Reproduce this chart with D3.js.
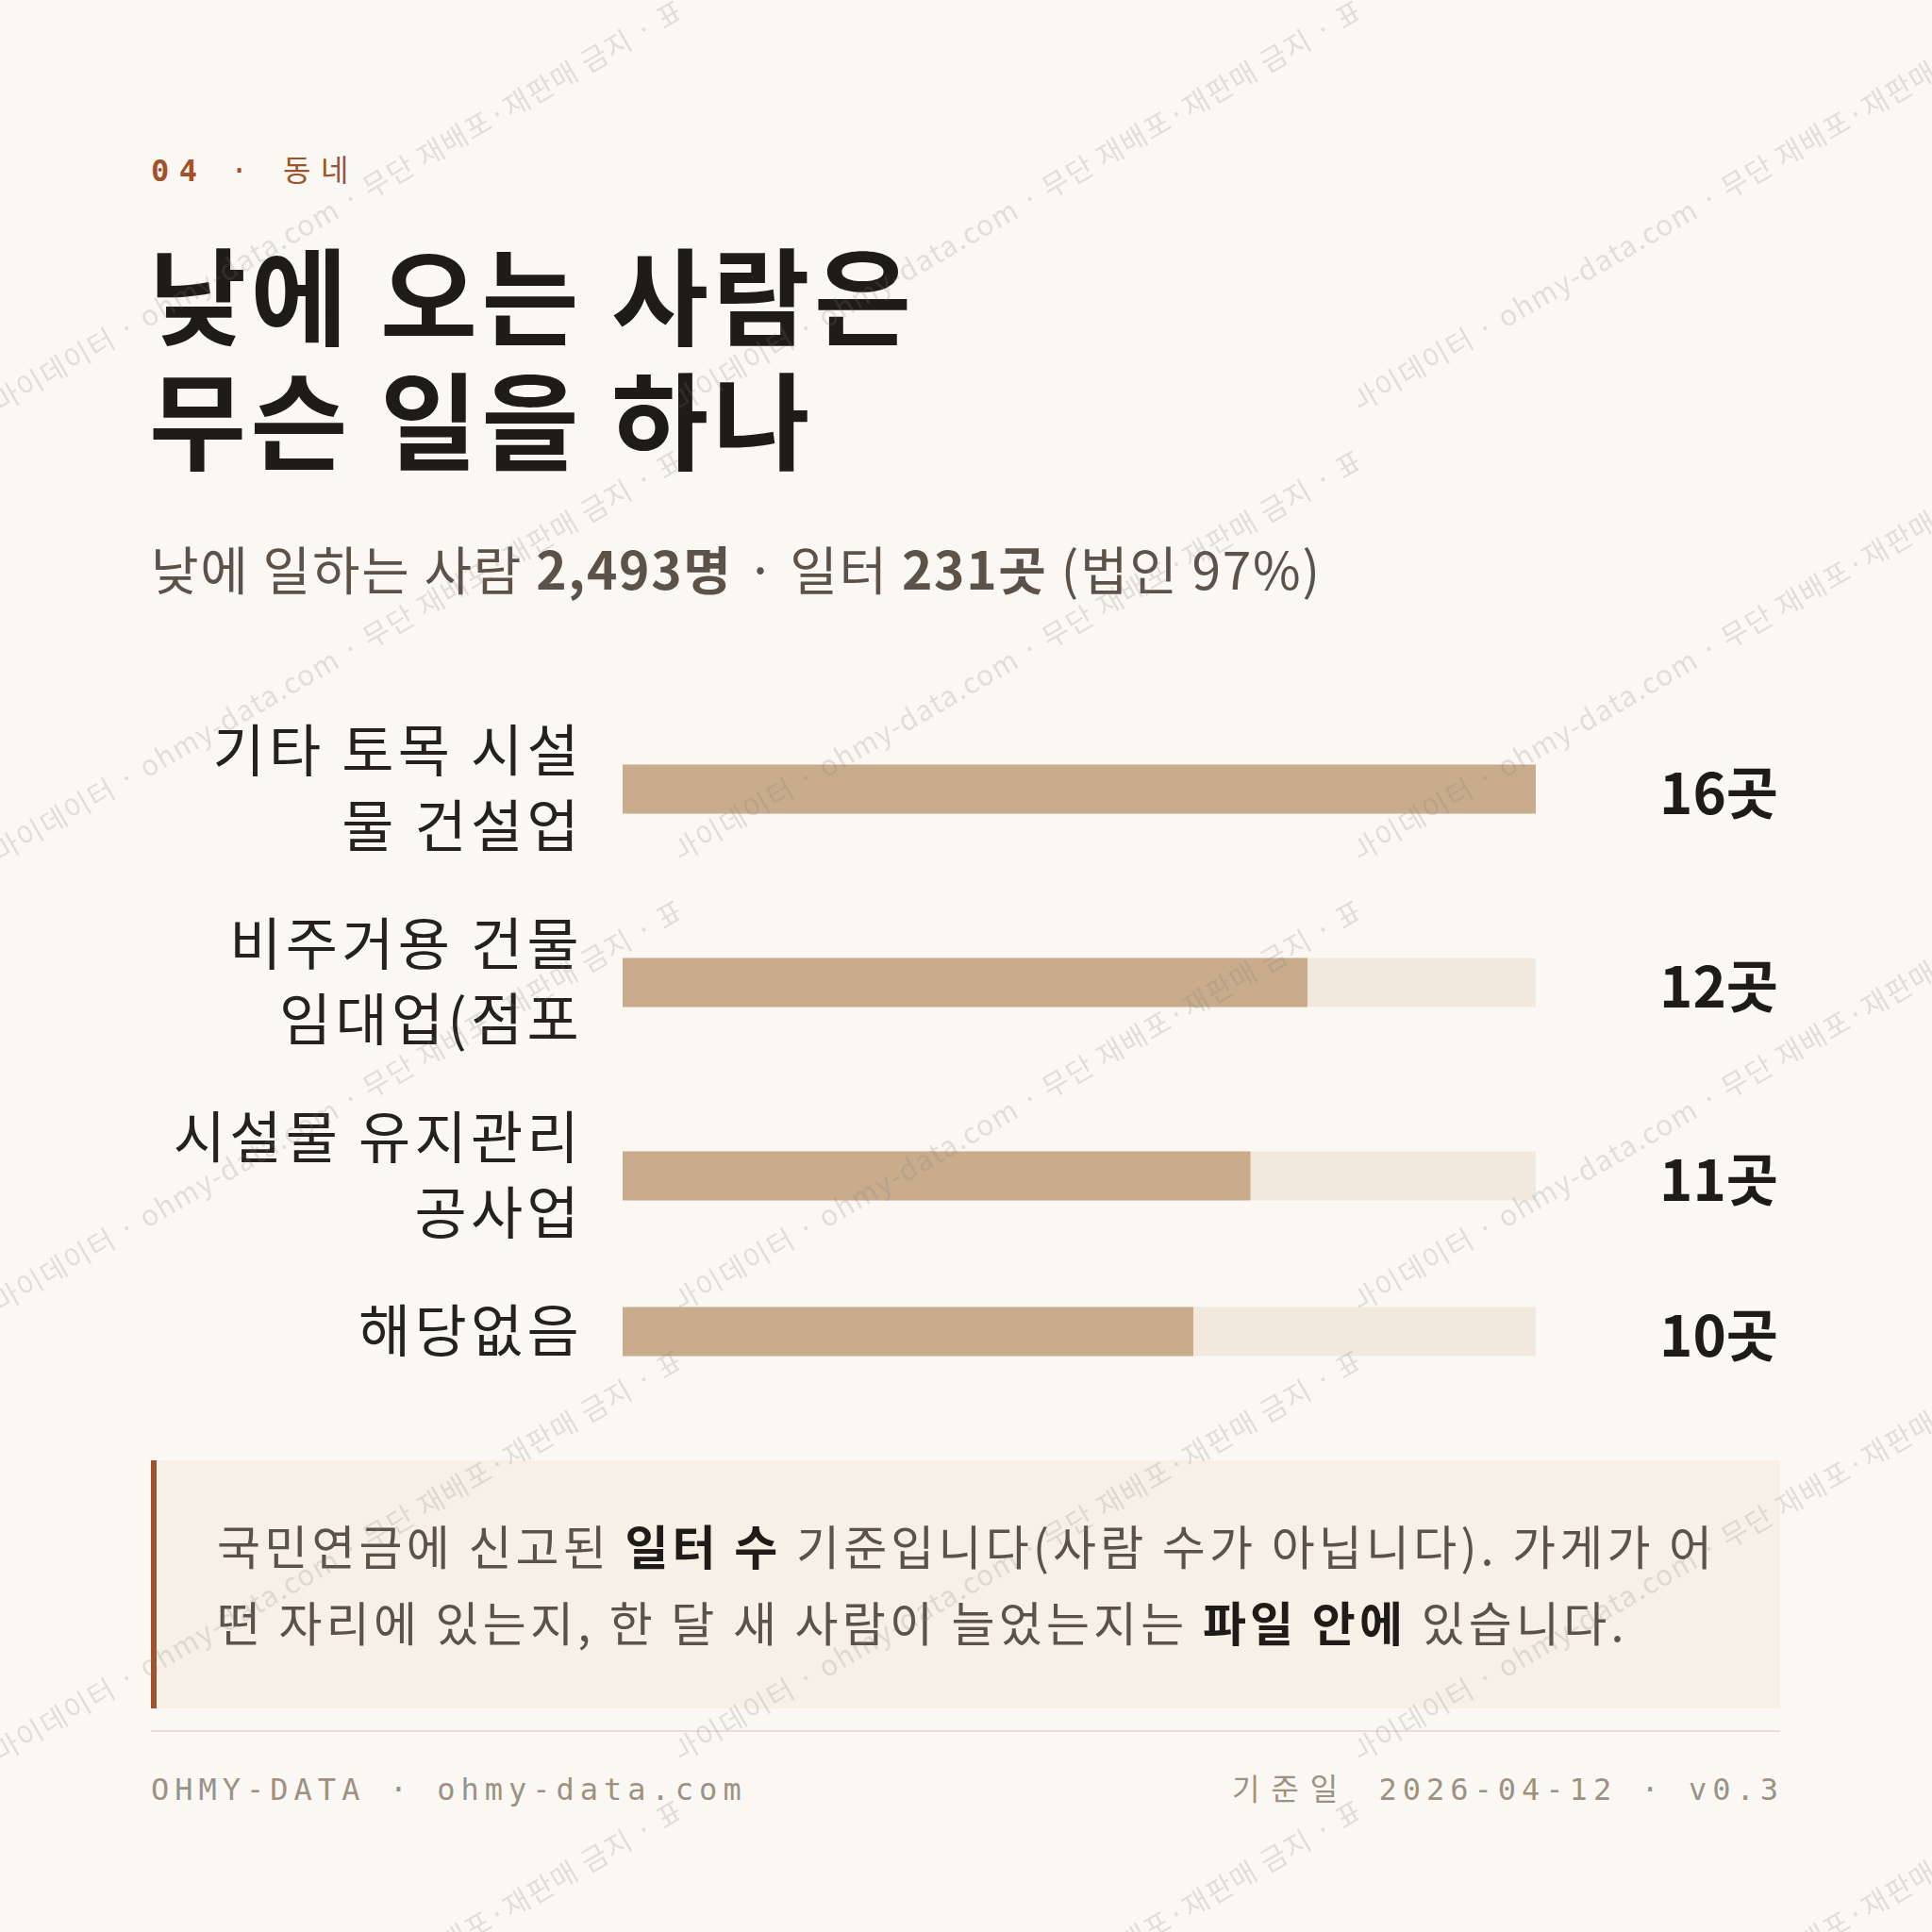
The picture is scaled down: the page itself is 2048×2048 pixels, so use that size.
<!DOCTYPE html>
<html>
<head>
<meta charset="utf-8">
<script src="https://cdn.jsdelivr.net/npm/d3@7"></script>
<style>
  html, body { margin: 0; padding: 0; background: #fbf8f3; }
  svg { display: block; }
</style>
</head>
<body>
<div id="chart"></div>
<script>
// ---------------- data ----------------
const kickerNumber = "04";
const kickerSep = "·";
const kickerText = "동네";
const titleLines = ["낮에 오는 사람은", "무슨 일을 하나"];
const subtitleParts = [
  { t: "낮에 일하는 사람 ", b: false },
  { t: "2,493명", b: true },
  { t: " · 일터 ", b: false },
  { t: "231곳", b: true },
  { t: " (법인 97%)", b: false }
];
const categories = ["기타 토목 시설\n물 건설업", "비주거용 건물\n임대업(점포", "시설물 유지관리\n공사업", "해당없음"];
const values = [16, 12, 11, 10];
const valueUnit = "곳";
const noteLines = [
  [{ t: "국민연금에 신고된 ", b: false }, { t: "일터 수", b: true }, { t: " 기준입니다(사람 수가 아닙니다). 가게가 어", b: false }],
  [{ t: "떤 자리에 있는지, 한 달 새 사람이 늘었는지는 ", b: false }, { t: "파일 안에", b: true }, { t: " 있습니다.", b: false }]
];
const footerLeft = "OHMY-DATA · ohmy-data.com";
const footerRightLabel = "기준일 ";
const footerRightValue = "2026-04-12 · v0.3";
const watermarkText = "마이데이터 · ohmy-data.com · 무단 재배포·재판매 금지 · 표본 추출 금지";

// ---------------- style ----------------
const W = 2048, H = 2048;
const SANS = "'Noto Sans CJK KR', 'Noto Sans', sans-serif";
const MONO = "'DejaVu Sans Mono', 'Noto Sans CJK KR', monospace";
const C = {
  bg: "#fbf8f3", ink: "#1f1b17", sub: "#5b5249", label: "#26211d",
  rust: "#a0522d", bar: "#c8ac8c", track: "#f1e9dd", note: "#f6f0e7",
  rule: "#e6dfd2", foot: "#9b9285"
};

const svg = d3.select("#chart").append("svg")
  .attr("width", W).attr("height", H)
  .attr("viewBox", `0 0 ${W} ${H}`);

svg.append("rect").attr("width", W).attr("height", H).attr("fill", C.bg);

// kicker
const kicker = svg.append("text")
  .attr("y", 192)
  .attr("font-family", MONO).attr("font-size", 32)
  .attr("letter-spacing", 10.5).attr("fill", C.rust);
kicker.append("tspan").attr("x", 160).attr("font-weight", 700).text(kickerNumber);
kicker.append("tspan").attr("x", 244).attr("font-weight", 400).text(kickerSep);
kicker.append("tspan").attr("x", 300).attr("font-weight", 400).text(kickerText);

// title
svg.append("g").selectAll("text").data(titleLines).join("text")
  .attr("x", 158).attr("y", (d, i) => 358 + i * 132)
  .attr("font-family", SANS).attr("font-weight", 700).attr("font-size", 112)
  .attr("letter-spacing", 4.5).attr("fill", C.ink)
  .text(d => d);

// subtitle
const sub = svg.append("text")
  .attr("x", 160).attr("y", 625)
  .attr("font-family", SANS).attr("font-size", 55).attr("fill", C.sub)
  .attr("letter-spacing", 1.7)
  .attr("xml:space", "preserve");
sub.selectAll("tspan").data(subtitleParts).join("tspan")
  .attr("font-weight", d => d.b ? 700 : 400)
  .text(d => d.t);

// bars
const x = d3.scaleLinear().domain([0, d3.max(values)]).range([660, 1628]);
const lineH = 80, gap = 45, barH = 52;
const rows = [];
let yTop = 756.5;
categories.forEach((c, i) => {
  const lines = c.split("\n");
  const h = lines.length * lineH;
  rows.push({ lines, value: values[i], cy: yTop + h / 2 });
  yTop += h + gap;
});

const g = svg.append("g");
const row = g.selectAll("g.row").data(rows).join("g").attr("class", "row");

row.append("rect")
  .attr("x", x(0)).attr("width", x(d3.max(values)) - x(0))
  .attr("y", d => d.cy - barH / 2).attr("height", barH)
  .attr("fill", C.track);
row.append("rect")
  .attr("x", x(0)).attr("width", d => x(d.value) - x(0))
  .attr("y", d => d.cy - barH / 2).attr("height", barH)
  .attr("fill", C.bar);

row.each(function(d) {
  const n = d.lines.length;
  d3.select(this).selectAll("text.lab").data(d.lines).join("text")
    .attr("class", "lab")
    .attr("x", 618)
    .attr("y", (t, i) => d.cy + (i - (n - 1) / 2) * lineH + 21)
    .attr("text-anchor", "end")
    .attr("font-family", SANS).attr("font-size", 60).attr("fill", C.label)
    .attr("letter-spacing", 4.3)
    .text(t => t);
});

row.append("text")
  .attr("x", 1885).attr("y", d => d.cy + 26)
  .attr("text-anchor", "end")
  .attr("font-family", SANS).attr("font-weight", 700).attr("font-size", 60)
  .attr("fill", C.ink)
  .text(d => d.value + valueUnit);

// note box
svg.append("rect").attr("x", 160).attr("y", 1548).attr("width", 1727).attr("height", 263).attr("fill", C.note);
svg.append("rect").attr("x", 160).attr("y", 1548).attr("width", 6).attr("height", 263).attr("fill", C.rust);
noteLines.forEach((parts, i) => {
  const t = svg.append("text")
    .attr("x", 230).attr("y", 1659 + i * 81)
    .attr("font-family", SANS).attr("font-size", 50)
    .attr("letter-spacing", 4.2)
    .attr("xml:space", "preserve");
  t.selectAll("tspan").data(parts).join("tspan")
    .attr("font-weight", d => d.b ? 700 : 400)
    .attr("fill", d => d.b ? C.ink : C.sub)
    .text(d => d.t);
});

// footer
svg.append("line").attr("x1", 160).attr("x2", 1887).attr("y1", 1835).attr("y2", 1835)
  .attr("stroke", C.rule).attr("stroke-width", 2);
svg.append("text").attr("x", 160).attr("y", 1908)
  .attr("font-family", MONO).attr("font-size", 32).attr("letter-spacing", 6)
  .attr("fill", C.foot).text(footerLeft);
const fr = svg.append("text").attr("x", 1891).attr("y", 1908).attr("text-anchor", "end")
  .attr("font-family", MONO).attr("font-size", 32)
  .attr("fill", C.foot).attr("xml:space", "preserve");
fr.append("tspan").attr("letter-spacing", 12).text(footerRightLabel);
fr.append("tspan").attr("letter-spacing", 6).text(footerRightValue);

// watermark
const defs = svg.append("defs");
const pat = defs.append("pattern").attr("id", "wm")
  .attr("patternUnits", "userSpaceOnUse")
  .attr("x", 0).attr("y", 0).attr("width", 720).attr("height", 477);
pat.append("text")
  .attr("transform", "translate(0,438) rotate(-30)")
  .attr("font-family", SANS).attr("font-size", 30).attr("letter-spacing", 1.4)
  .attr("fill", "#787878").attr("fill-opacity", 0.2)
  .text(watermarkText);
svg.append("rect").attr("width", W).attr("height", H).attr("fill", "url(#wm)")
  .attr("pointer-events", "none");
</script>
</body>
</html>
